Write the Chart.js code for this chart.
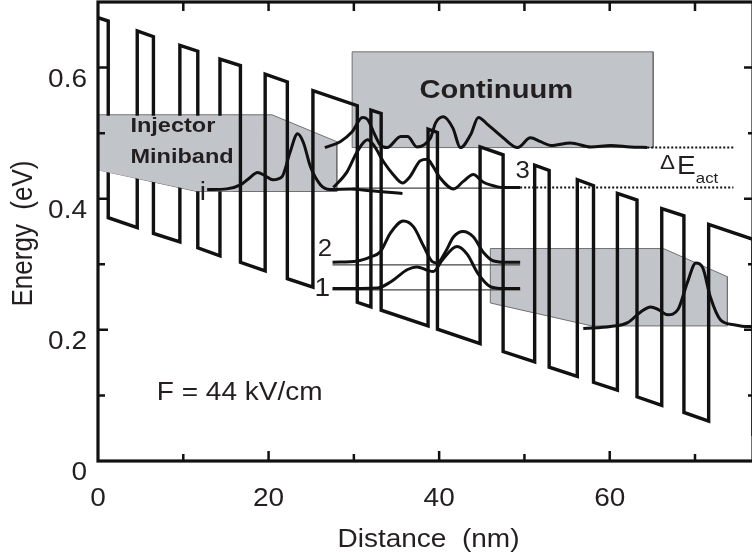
<!DOCTYPE html>
<html>
<head>
<meta charset="utf-8">
<script src="https://cdn.jsdelivr.net/npm/chart.js@4.4.1/dist/chart.umd.min.js"></script>
<style>
  html, body { margin: 0; padding: 0; background: #fff; overflow: hidden; }
  #wrap { width: 752px; height: 558px; overflow: hidden; }
</style>
</head>
<body>
<div id="wrap"><canvas id="bandChart" width="756" height="558"></canvas></div>
<script>
// Axis ticks (nm, eV)
const xTicks = [0, 10, 20, 30, 40, 50, 60, 70];
const xTickLabels = ['0', '', '20', '', '40', '', '60', ''];
const yTicks = [0, 0.1, 0.2, 0.3, 0.4, 0.5, 0.6];
const yTickLabels = ['0', '', '0.2', '', '0.4', '', '0.6'];

// Conduction band edge, vertices
const bandX = [0, 1.2, 1.2, 4.6, 4.6, 6.5, 6.5, 9.6, 9.6, 11.7,
  11.7, 14.3, 14.3, 16.7, 16.7, 19.6, 19.6, 22.2, 22.2, 25.2,
  25.2, 30.4, 30.4, 32.0, 32.0, 33.2, 33.2, 38.7, 38.7, 39.8,
  39.8, 44.8, 44.8, 47.5, 47.5, 51.2, 51.2, 52.9, 52.9, 56.2,
  56.2, 58.1, 58.1, 60.9, 60.9, 63.2, 63.2, 66.1, 66.1, 68.7,
  68.7, 71.6, 71.6, 76.8, 76.8];
const bandE = [0.676, 0.671, 0.371, 0.356, 0.656, 0.647, 0.347, 0.334, 0.634, 0.625,
  0.325, 0.313, 0.613, 0.603, 0.303, 0.290, 0.590, 0.578, 0.278, 0.265,
  0.565, 0.542, 0.242, 0.235, 0.535, 0.530, 0.230, 0.206, 0.506, 0.501,
  0.201, 0.179, 0.479, 0.467, 0.167, 0.151, 0.451, 0.443, 0.143, 0.129,
  0.429, 0.420, 0.120, 0.108, 0.408, 0.398, 0.098, 0.085, 0.385, 0.374,
  0.074, 0.061, 0.361, 0.338, 0.038];

// Shaded regions (minibands, continuum)
const injLeftX = [0, 20.4, 28.0, 28.0, 11.6, 0, 0];
const injLeftE = [0.528, 0.528, 0.487, 0.411, 0.411, 0.444, 0.528];
// part of the left miniband that sits over the barriers (behind its label)
const injCoverX = [0, 15.8, 15.8, 11.6, 0, 0];
const injCoverE = [0.5265, 0.5265, 0.4115, 0.4115, 0.4435, 0.5265];
const injRightX = [46.0, 66.3, 73.8, 73.8, 57.9, 46.0, 46.0];
const injRightE = [0.324, 0.324, 0.281, 0.206, 0.206, 0.241, 0.324];
const contX = [29.8, 65.1, 65.1, 29.8, 29.8];
const contE = [0.624, 0.624, 0.478, 0.478, 0.624];

// Moduli squared of the wavefunctions, offset to their levels
const waveIX = [12.8, 15.1, 16.7, 17.8, 18.7, 19.6, 20.5, 21.6, 22.5, 23.4, 24.1, 24.9, 26.1, 27.2, 29.6, 31.9, 35.7];
const waveIE = [0.414, 0.415, 0.421, 0.432, 0.440, 0.435, 0.429, 0.434, 0.470, 0.499, 0.485, 0.449, 0.421, 0.414, 0.415, 0.412, 0.408];

const waveCX = [26.6, 28.4, 29.8, 31.0, 31.6, 32.3, 33.1, 33.9, 35.5, 36.3, 37.4, 38.2, 39.0, 39.6, 40.5,
  41.6, 42.5, 43.7, 44.6, 45.7, 47.5, 49.2, 50.7, 51.9, 53.1, 55.4, 57.8, 60.1, 62.4, 64.4];
const waveCE = [0.478, 0.487, 0.502, 0.524, 0.521, 0.502, 0.482, 0.478, 0.495, 0.495, 0.479, 0.482, 0.493, 0.516, 0.525,
  0.508, 0.478, 0.498, 0.524, 0.513, 0.493, 0.478, 0.493, 0.487, 0.481, 0.485, 0.479, 0.481, 0.479, 0.478];

const wave3X = [27.6, 29.2, 30.4, 31.6, 32.3, 33.5, 34.6, 35.7, 36.6, 37.8, 38.6, 39.3, 40.1, 41.7, 42.8, 44.0, 45.1, 46.0, 47.5, 49.5];
const wave3E = [0.417, 0.441, 0.472, 0.490, 0.482, 0.456, 0.437, 0.424, 0.434, 0.458, 0.460, 0.449, 0.432, 0.415, 0.426, 0.437, 0.426, 0.421, 0.417, 0.417];

const wave2X = [27.5, 30.4, 31.9, 33.1, 34.3, 35.8, 37.0, 38.2, 39.2, 39.8, 40.7, 41.7, 42.8, 44.0, 45.2, 46.4, 48.0, 49.5];
const wave2E = [0.303, 0.305, 0.311, 0.319, 0.348, 0.366, 0.357, 0.327, 0.304, 0.302, 0.318, 0.342, 0.350, 0.342, 0.318, 0.305, 0.303, 0.303];

const wave1X = [27.5, 32.8, 34.3, 36.3, 37.4, 38.6, 39.3, 40.4, 42.1, 43.3, 44.5, 46.0, 47.5, 49.5];
const wave1E = [0.263, 0.264, 0.273, 0.292, 0.296, 0.291, 0.289, 0.307, 0.327, 0.315, 0.287, 0.266, 0.263, 0.263];

const waveRX = [56.9, 60.1, 62.1, 63.6, 64.8, 65.7, 66.8, 68.0, 69.1, 70.1, 70.9, 71.8, 73.0, 74.5, 76.2, 76.9];
const waveRE = [0.202, 0.205, 0.211, 0.227, 0.235, 0.231, 0.223, 0.231, 0.272, 0.302, 0.295, 0.250, 0.215, 0.208, 0.205, 0.205];

// Level markers
const lvl3X = [29.8, 49.5], lvl3E = [0.416, 0.416];
const lvl2X = [27.5, 49.5], lvl2E = [0.299, 0.299];
const lvl1X = [27.5, 49.5], lvl1E = [0.261, 0.261];
const dotUpX = [64.4, 74.5], dotUpE = [0.478, 0.478];
const dotLoX = [49.5, 74.5], dotLoE = [0.417, 0.417];

const FONT = '"Liberation Sans", Arial, Helvetica, sans-serif';
const INK = '#231f20';
const SX = 1.12; // the original lettering is slightly wide

// text labels: x in nm, e = baseline in eV
const notes = [
  { text: 'Injector', x: 3.8, e: 0.501, size: 21, bold: true, align: 'left' },
  { text: 'Miniband', x: 3.8, e: 0.455, size: 21, bold: true, align: 'left' },
  { text: 'Continuum', x: 46.7, e: 0.554, size: 26, bold: true, align: 'center' },
  { text: 'i', x: 12.3, e: 0.398, size: 25, align: 'center' },
  { text: '3', x: 49.8, e: 0.432, size: 23, align: 'center' },
  { text: '2', x: 26.6, e: 0.313, size: 23, align: 'center' },
  { text: '1', x: 26.3, e: 0.252, size: 25, align: 'center' },
  { text: '\u0394', x: 65.9, e: 0.446, size: 20, align: 'left' },
  { text: 'E', x: 67.9, e: 0.437, size: 25, align: 'left' },
  { text: 'act', x: 70.1, e: 0.424, size: 15, align: 'left' },
  { text: 'F = 44 kV/cm', x: 6.9, e: 0.093, size: 25, align: 'left' }
];

function pts(xs, ys) {
  return xs.map((v, i) => ({ x: v, y: ys[i] }));
}

function putText(ctx, str, px, py, size, weight, align) {
  ctx.save();
  ctx.font = `${weight} ${size}px ${FONT}`;
  ctx.fillStyle = INK;
  ctx.textBaseline = 'alphabetic';
  ctx.textAlign = align;
  ctx.translate(px, py);
  ctx.scale(SX, 1);
  ctx.fillText(str, 0, 0);
  ctx.restore();
}

const GRAY = '#c1c4c9';
const shaded = (xs, ys) => ({
  data: pts(xs, ys), fill: 'shape', backgroundColor: GRAY,
  borderColor: '#707070', borderWidth: 1, order: 5
});
const thin = (xs, ys, dash) => ({
  data: pts(xs, ys), fill: false, borderColor: dash ? '#111' : '#444',
  borderWidth: dash ? 2 : 1.2, borderDash: dash ? [2, 2] : [], order: 4
});
const wave = (xs, ys) => ({
  data: pts(xs, ys), fill: false, borderColor: '#111', borderWidth: 3,
  cubicInterpolationMode: 'monotone', order: 1
});

// frame, inward ticks and all lettering
const framePlugin = {
  id: 'framePlugin',
  afterDatasetsDraw(chart) {
    const { ctx, chartArea: a, scales: { x, y } } = chart;
    ctx.save();
    ctx.strokeStyle = '#111';
    ctx.lineWidth = 3.2;
    ctx.strokeRect(a.left, a.top, a.right - a.left, a.bottom - a.top);

    ctx.lineWidth = 2.5;
    ctx.beginPath();
    x.ticks.forEach((t, i) => {
      if (t.value === 0) return;
      const px = x.getPixelForValue(t.value);
      const major = xTickLabels[i] !== '';
      ctx.moveTo(px, a.bottom); ctx.lineTo(px, a.bottom - (major ? 10 : 7));
      ctx.moveTo(px, a.top); ctx.lineTo(px, a.top + 9);
    });
    y.ticks.forEach((t, i) => {
      if (t.value === 0) return;
      const py = y.getPixelForValue(t.value);
      const major = yTickLabels[i] !== '';
      ctx.moveTo(a.left, py); ctx.lineTo(a.left + (major ? 10 : 7), py);
      ctx.moveTo(a.right, py); ctx.lineTo(a.right - (major ? 9 : 5), py);
    });
    ctx.stroke();

    x.ticks.forEach((t, i) => {
      if (xTickLabels[i]) putText(ctx, xTickLabels[i], x.getPixelForValue(t.value), a.bottom + 45, 25, 'normal', 'center');
    });
    y.ticks.forEach((t, i) => {
      if (yTickLabels[i]) putText(ctx, yTickLabels[i], a.left - 11, y.getPixelForValue(t.value) + 19, 25, 'normal', 'right');
    });

    putText(ctx, 'Distance  (nm)', (a.left + a.right) / 2 + 3, a.bottom + 86, 25, 'normal', 'center');

    ctx.save();
    ctx.translate(a.left - 66, (a.top + a.bottom) / 2 + 2);
    ctx.scale(1.15, 1);
    ctx.rotate(-Math.PI / 2);
    ctx.font = `normal 26px ${FONT}`;
    ctx.fillStyle = INK;
    ctx.textAlign = 'center';
    ctx.textBaseline = 'alphabetic';
    ctx.fillText('Energy  (eV)', 0, 0);
    ctx.restore();

    notes.forEach(n => {
      putText(ctx, n.text, x.getPixelForValue(n.x), y.getPixelForValue(n.e), n.size, n.bold ? 'bold' : 'normal', n.align);
    });
    ctx.restore();
  }
};

new Chart(document.getElementById('bandChart'), {
  type: 'line',
  data: {
    datasets: [
      shaded(injLeftX, injLeftE),
      shaded(injRightX, injRightE),
      shaded(contX, contE),
      { data: pts(injCoverX, injCoverE), fill: 'shape', backgroundColor: GRAY,
        borderWidth: 0, borderColor: 'rgba(0,0,0,0)', order: 1.5 },
      thin(lvl3X, lvl3E), thin(lvl2X, lvl2E), thin(lvl1X, lvl1E),
      thin(dotUpX, dotUpE, true), thin(dotLoX, dotLoE, true),
      { data: pts(bandX, bandE), fill: false, borderColor: '#111', borderWidth: 3.4,
        borderJoinStyle: 'miter', order: 2 },
      wave(waveIX, waveIE), wave(waveCX, waveCE), wave(wave3X, wave3E),
      wave(wave2X, wave2E), wave(wave1X, wave1E), wave(waveRX, waveRE)
    ]
  },
  options: {
    responsive: false,
    animation: false,
    devicePixelRatio: 1,
    layout: { padding: { left: 0, right: 3, top: 2, bottom: 0 } },
    elements: { point: { radius: 0, hoverRadius: 0 }, line: { tension: 0 } },
    plugins: { legend: { display: false }, tooltip: { enabled: false } },
    scales: {
      x: {
        type: 'linear', min: 0, max: 76.8,
        grid: { display: false }, border: { display: false },
        ticks: { display: false },
        afterBuildTicks: s => { s.ticks = xTicks.map(v => ({ value: v })); },
        afterFit: s => { s.height = 97; }
      },
      y: {
        type: 'linear', min: 0, max: 0.7,
        grid: { display: false }, border: { display: false },
        ticks: { display: false },
        afterBuildTicks: s => { s.ticks = yTicks.map(v => ({ value: v })); },
        afterFit: s => { s.width = 98; }
      }
    }
  },
  plugins: [framePlugin]
});
</script>
</body>
</html>
